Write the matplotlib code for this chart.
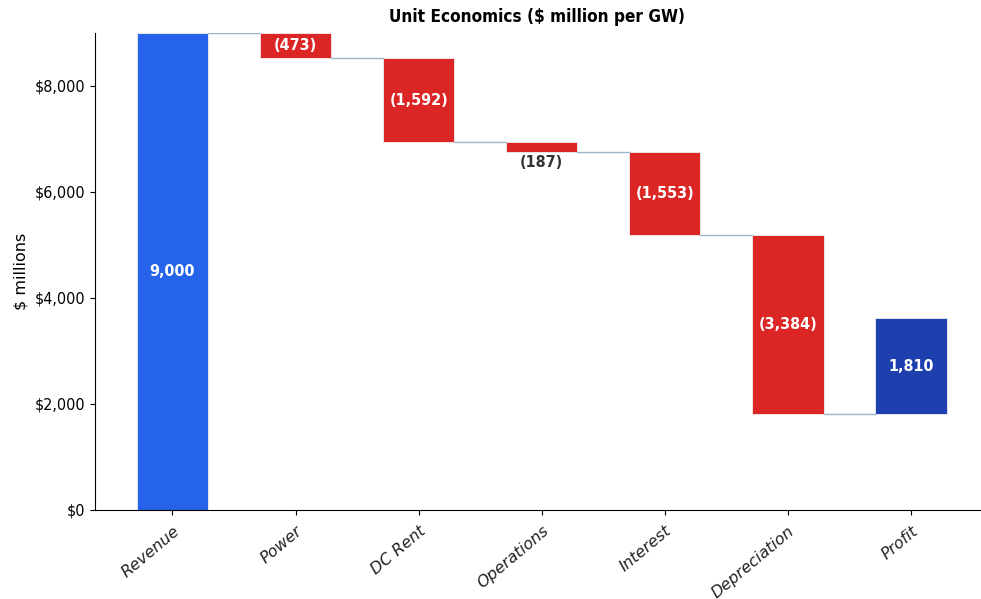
import matplotlib
matplotlib.use("Agg")
import matplotlib.pyplot as plt
from matplotlib.ticker import FuncFormatter, MultipleLocator
import numpy as np

categories = ["Revenue", "Power", "DC Rent", "Operations", "Interest", "Depreciation", "Profit"]
changes = [9000, -473, -1592, -187, -1553, -3384]
profit = 1810

plt.rcParams['font.family'] = ['DejaVu Sans']
plt.rcParams['font.stretch'] = 'condensed'

fig = plt.figure(figsize=(9.81, 5.99), dpi=100)
ax = fig.add_axes([0.0968, 0.1486, 0.902, 0.7964])

c_rev = "#2563EB"
c_neg = "#DC2626"
c_profit = "#1E40AF"
c_conn = "#9FB3CC"
width = 0.58

running = 0
bottoms, heights, colors = [], [], []
for i, v in enumerate(changes):
    if i == 0:
        bottoms.append(0)
        heights.append(v)
        colors.append(c_rev)
        running = v
    else:
        running += v
        bottoms.append(running)
        heights.append(-v)
        colors.append(c_neg)
bottoms.append(running)
heights.append(profit)
colors.append(c_profit)

x = np.arange(len(categories))
ax.bar(x, heights, width, bottom=bottoms, color=colors, edgecolor="#f0f0f0", linewidth=0.6)

# connector lines
levels = np.cumsum(changes)
for i in range(len(categories) - 1):
    ax.plot([x[i] + width / 2, x[i + 1] - width / 2], [levels[i], levels[i]],
            color=c_conn, lw=1)

labels = ["9,000", "(473)", "(1,592)", "(187)", "(1,553)", "(3,384)", "1,810"]
for i, lab in enumerate(labels):
    mid = bottoms[i] + heights[i] / 2
    if heights[i] < 300:
        ax.text(x[i], bottoms[i] - 50, lab, ha="center", va="top", color="#333333",
                fontsize=11.5, fontweight="bold")
    else:
        ax.text(x[i], mid, lab, ha="center", va="center", color="white",
                fontsize=11.5, fontweight="bold")

ax.set_xlim(-0.63, 6.56)
ax.set_ylim(0, 9000)
ax.yaxis.set_major_locator(MultipleLocator(2000))
ax.set_xticks(x)
ax.set_xticklabels(categories, rotation=40, ha="right", rotation_mode="anchor",
                   fontsize=11.5, fontstretch="normal", fontstyle="italic", color="#222222")
ax.tick_params(axis="x", pad=6)
ax.yaxis.set_major_formatter(FuncFormatter(lambda v, p: f"${v:,.0f}"))
ax.tick_params(axis="y", labelsize=11.5)
ax.set_ylabel("$ millions", fontsize=11.5, fontstretch="normal")
ax.yaxis.set_label_coords(-0.075, 0.5)
ax.set_title("Unit Economics ($ million per GW)", fontsize=12.3, fontweight="bold", pad=8)
ax.spines["top"].set_visible(False)
ax.spines["right"].set_visible(False)

fig.savefig("out.png", dpi=100)
